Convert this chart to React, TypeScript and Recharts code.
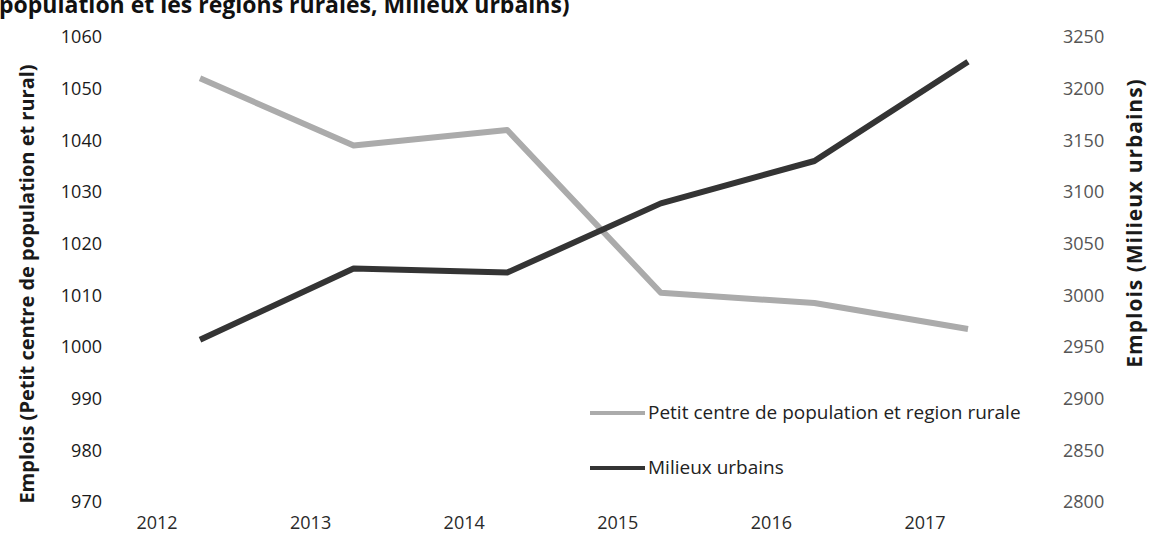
import React from 'react';
import { LineChart, Line, XAxis, YAxis, Legend } from 'recharts';

const years = ['2012', '2013', '2014', '2015', '2016', '2017'];
const ruralValues = [1052, 1039, 1042, 1010.5, 1008.5, 1003.5];
const urbainValues = [2957, 3026, 3022, 3089, 3130, 3226];
const leftTicks = [970, 980, 990, 1000, 1010, 1020, 1030, 1040, 1050, 1060];
const rightTicks = [2800, 2850, 2900, 2950, 3000, 3050, 3100, 3150, 3200, 3250];

const ruralName = 'Petit centre de population et region rurale';
const urbainName = 'Milieux urbains';
const leftTitle = 'Emplois (Petit centre de population et rural)';
const rightTitle = 'Emplois (Milieux urbains)';
const chartTitle = 'population et les régions rurales, Milieux urbains)';

const data = years.map((y, i) => ({ year: y, rural: ruralValues[i], urbain: urbainValues[i] }));

const FONT = '"Open Sans", sans-serif';
const GRAY = '#ababab';
const DARK = '#343434';

const XTick = (props: any) => {
  const { x, y, payload } = props;
  return (
    <text x={x - 43} y={y + 19} textAnchor="middle" fontFamily={FONT} fontSize={18} fill="#2a2a2a">
      {payload.value}
    </text>
  );
};

const renderLegend = () => (
  <svg width={470} height={95} style={{ display: 'block' }}>
    <line x1={5} y1={18} x2={60} y2={18} stroke={GRAY} strokeWidth={4} />
    <text x={63} y={24} fontFamily={FONT} fontSize={19} fill="#222">{ruralName}</text>
    <line x1={5} y1={73} x2={60} y2={73} stroke={DARK} strokeWidth={4} />
    <text x={63} y={79} fontFamily={FONT} fontSize={19} fill="#222">{urbainName}</text>
  </svg>
);

export default function App() {
  return (
    <div style={{ position: 'absolute', left: 0, top: 0, width: 1150, height: 542, background: '#fff', overflow: 'hidden' }}>
      <svg width={1150} height={30} style={{ position: 'absolute', left: 0, top: 0 }}>
        <text x={-1} y={13} fontFamily={FONT} fontSize={23} fontWeight={700} fill="#111">{chartTitle}</text>
      </svg>
      <div style={{ position: 'absolute', left: 0, top: 0 }}>
        <LineChart width={1150} height={542} data={data} margin={{ top: 37, right: 0, bottom: 0, left: 0 }}>
          <XAxis dataKey="year" axisLine={false} tickLine={false} height={40} tick={<XTick />} interval={0} padding={{ left: 77, right: 77 }} />
          <YAxis
            yAxisId="left"
            orientation="left"
            width={123}
            domain={[970, 1060]}
            ticks={leftTicks}
            axisLine={false}
            tickLine={false}
            tickMargin={15}
            interval={0}
            tick={{ fontFamily: FONT, fontSize: 18, fill: '#1a1a1a' }}
            label={() => (
              <text transform="translate(26,284) rotate(-90)" textAnchor="middle" dominantBaseline="central" fontFamily={FONT} fontSize={20} fontWeight={700} fill="#1a1a1a">
                {leftTitle}
              </text>
            )}
          />
          <YAxis
            yAxisId="right"
            orientation="right"
            width={105}
            domain={[2800, 3250]}
            ticks={rightTicks}
            axisLine={false}
            tickLine={false}
            tickMargin={12}
            interval={0}
            tick={{ fontFamily: FONT, fontSize: 18, fill: '#555' }}
            label={() => (
              <text transform="translate(1134,223) rotate(-90)" textAnchor="middle" dominantBaseline="central" fontFamily={FONT} fontSize={21} letterSpacing={1} fontWeight={700} fill="#1a1a1a">
                {rightTitle}
              </text>
            )}
          />
          <Legend
            layout="horizontal"
            verticalAlign="middle"
            content={renderLegend}
            wrapperStyle={{ position: 'absolute', left: 585, top: 395, width: 470, height: 95 }}
          />
          <Line yAxisId="left" type="linear" dataKey="rural" name={ruralName} stroke={GRAY} strokeWidth={6} dot={false} strokeLinejoin="round" isAnimationActive={false} />
          <Line yAxisId="right" type="linear" dataKey="urbain" name={urbainName} stroke={DARK} strokeWidth={6} dot={false} strokeLinejoin="round" isAnimationActive={false} />
        </LineChart>
      </div>
    </div>
  );
}
